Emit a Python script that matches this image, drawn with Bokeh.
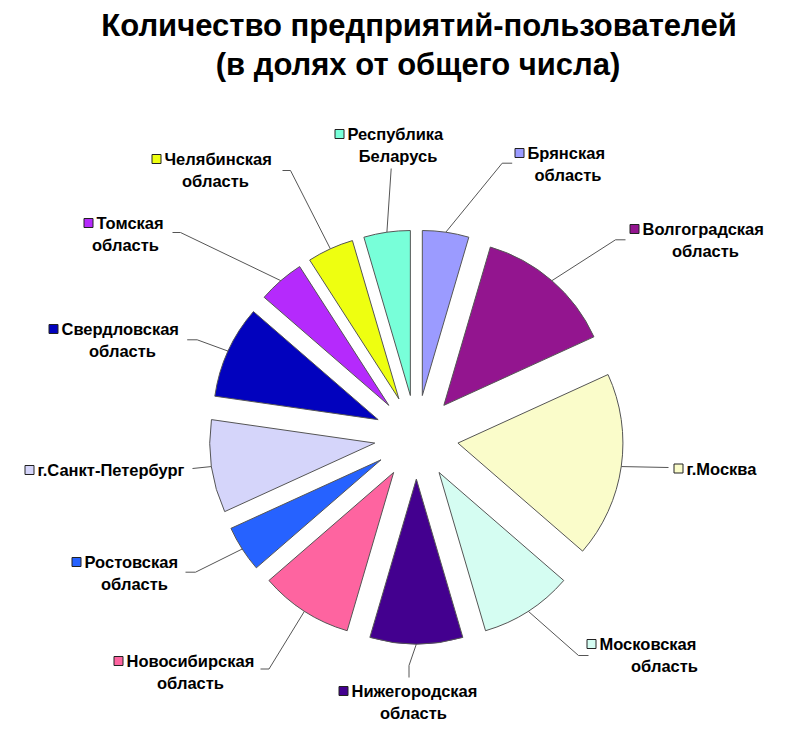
import math
from bokeh.plotting import figure
from bokeh.models import ColumnDataSource, Range1d
from bokeh.core.properties import value
from bokeh.embed import file_html
from bokeh.resources import INLINE

# ---- data ----
regions = ["Брянская область", "Волгоградская область", "г.Москва", "Московская область",
           "Нижегородская область", "Новосибирская область", "Ростовская область",
           "г.Санкт-Петербург", "Свердловская область", "Томская область",
           "Челябинская область", "Республика Беларусь"]
counts = [1, 3, 4, 2, 2, 2, 1, 2, 2, 1, 1, 1]
label_line1 = ["Брянская", "Волгоградская", "г.Москва", "Московская", "Нижегородская",
               "Новосибирская", "Ростовская", "г.Санкт-Петербург", "Свердловская",
               "Томская", "Челябинская", "Республика"]
label_line2 = ["область", "область", "", "область", "область", "область", "область",
               "", "область", "область", "область", "Беларусь"]
title_lines = ["Количество предприятий-пользователей", "(в долях от общего числа)"]

# ---- styles / layout ----
colors = ["#9B9BFF", "#93158F", "#FAFCCA", "#D5FDF2", "#43008F", "#FE64A0",
          "#2662FF", "#D5D5FA", "#0202BE", "#B52AFC", "#EEFF10", "#78FFD9"]
W, H = 800, 730
CX, CY = 415.85, 436.6      # pie centre (pixels, y down)
R = 165                     # radius
EXPLODE = 42                # explosion offset

def Y(yp):
    return H - yp

# label anchors: key square position (pixels), second line centre x
key_pos = [(519, 152.5), (634, 228.5), (678, 468), (591, 643.5), (343, 690.5),
           (118, 660.5), (76, 561.5), (29, 469.5), (53, 328.5), (88, 222.5),
           (156, 158.5), (339, 133.5)]
line2_cx = [567.5, 705, 0, 664, 413, 190, 134, 0, 122, 125, 215, 397.5]
leader_via = [[(501.7, 162.7), (511.7, 162.7)],
              [(615, 239.3), (625, 239.3)],
              [(668, 467)],
              [(578, 655), (588, 655)],
              [(408.5, 665), (408.5, 677)],
              [(268.5, 668.5), (260, 668.5)],
              [(195, 571.7), (185, 571.7)],
              [(192, 468)],
              [(196.7, 339.3), (186.7, 339.3)],
              [(180, 232), (172, 232)],
              [(290, 170), (282, 170)],
              [(390.7, 168)]]

total = sum(counts)
cum = 0.0
wx, wy, sa, ea, mids = [], [], [], [], []
for c in counts:
    a0 = cum / total * 360.0
    cum += c
    a1 = cum / total * 360.0
    mid = math.radians((a0 + a1) / 2)
    mids.append(mid)
    wx.append(CX + EXPLODE * math.sin(mid))
    wy.append(Y(CY) + EXPLODE * math.cos(mid))
    sa.append(90 - a1)
    ea.append(90 - a0)

wedges = ColumnDataSource(dict(x=wx, y=wy, sa=sa, ea=ea, color=colors, name=regions))

p = figure(width=W, height=H, x_range=Range1d(0, W), y_range=Range1d(0, H),
           min_border=0, toolbar_location=None, output_backend="svg",
           x_axis_location=None, y_axis_location=None)
p.grid.visible = False
p.outline_line_color = None
p.background_fill_color = "white"
p.border_fill_color = "white"

p.wedge(x="x", y="y", radius=R, start_angle="sa", end_angle="ea",
        start_angle_units="deg", end_angle_units="deg", direction="anticlock",
        fill_color="color", line_color="#555555", line_width=1, source=wedges)

# leader lines
xs, ys = [], []
for i, m in enumerate(mids):
    sx = CX + (EXPLODE + R) * math.sin(m)
    sy = Y(CY) + (EXPLODE + R) * math.cos(m)
    lx = [sx] + [pt[0] for pt in leader_via[i]]
    ly = [sy] + [Y(pt[1]) for pt in leader_via[i]]
    xs.append(lx)
    ys.append(ly)
p.multi_line(xs=xs, ys=ys, line_color="#555555", line_width=1)

# legend keys
p.rect(x=[k[0] for k in key_pos], y=[Y(k[1]) for k in key_pos], width=9, height=9,
       fill_color=colors, line_color="#222222", line_width=1)

font = value("Liberation Sans")
t1 = ColumnDataSource(dict(x=[k[0] + 8 for k in key_pos], y=[Y(k[1]) for k in key_pos],
                           t=label_line1))
p.text(x="x", y="y", text="t", source=t1, text_font=font, text_font_size="16.5px",
       text_font_style="bold", text_baseline="middle", text_align="left", text_color="black")
idx2 = [i for i in range(len(label_line2)) if label_line2[i]]
t2 = ColumnDataSource(dict(x=[line2_cx[i] for i in idx2], y=[Y(key_pos[i][1] + 22) for i in idx2],
                           t=[label_line2[i] for i in idx2]))
p.text(x="x", y="y", text="t", source=t2, text_font=font, text_font_size="16.5px",
       text_font_style="bold", text_baseline="middle", text_align="center", text_color="black")

# title
p.text(x=[418.5, 417.5], y=[Y(25), Y(64)], text=title_lines, text_font=font,
       text_font_size="31px", text_font_style="bold", text_baseline="middle",
       text_align="center", text_color="black")

open("out.html", "w").write(file_html(p, INLINE))
